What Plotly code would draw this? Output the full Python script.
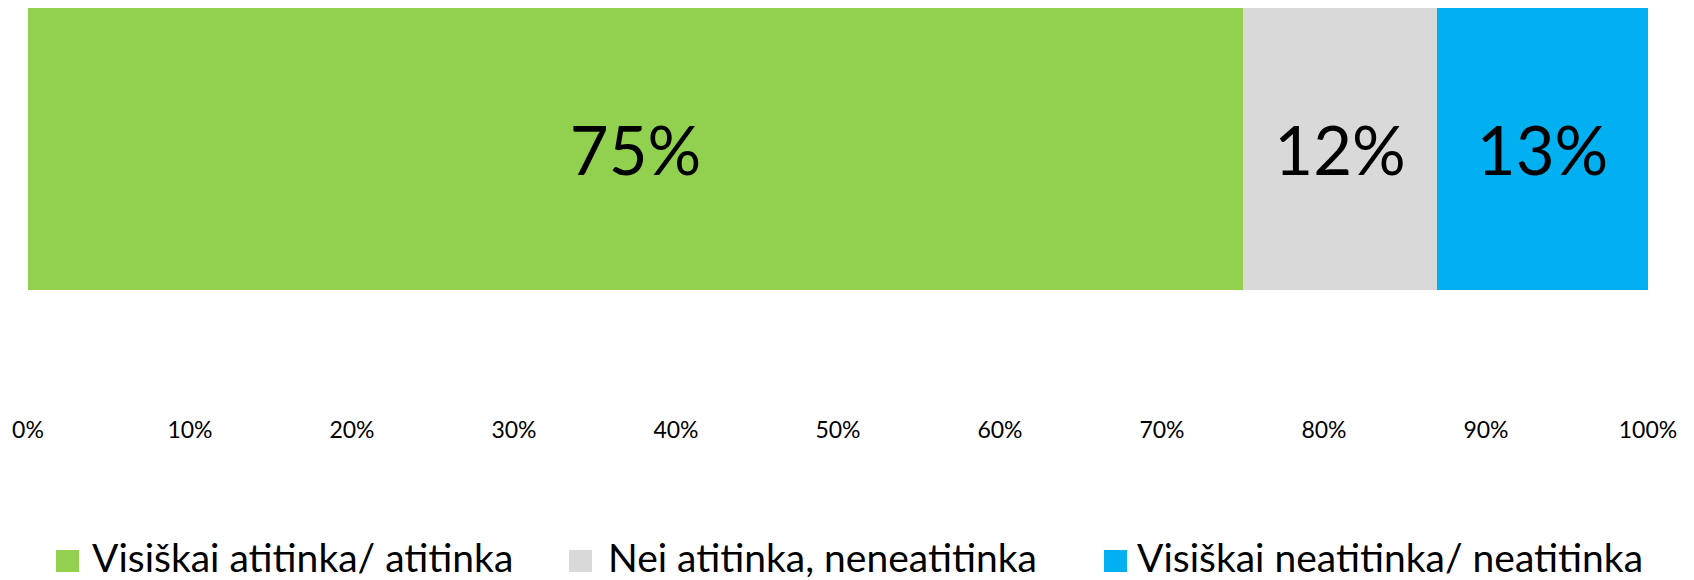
import plotly.graph_objects as go

categories = ["Visiškai atitinka/ atitinka", "Nei atitinka, neneatitinka", "Visiškai neatitinka/ neatitinka"]
values = [75, 12, 13]
labels = ["75%", "12%", "13%"]
colors = ["#92D050", "#D9D9D9", "#00B0F0"]
tick_vals = [0, 10, 20, 30, 40, 50, 60, 70, 80, 90, 100]
tick_text = ["0%", "10%", "20%", "30%", "40%", "50%", "60%", "70%", "80%", "90%", "100%"]

# page body has an 8px default margin; figure coords = page coords - 8
OFF = 8
W, H = 1694 - OFF, 580 - OFF
ML, MT = 28 - OFF, 8 - OFF
PLOT_R = 1648 - OFF
PLOT_B = 414 - OFF
MR = W - PLOT_R
MB = H - PLOT_B
BAR_PX = 282
FONT = "Lato"

fig = go.Figure()
for cat, v, lab, col in zip(categories, values, labels, colors):
    fig.add_trace(go.Bar(
        x=[v], y=[0], orientation="h", name=cat, width=1,
        marker=dict(color=col, line=dict(width=0)),
        text=[lab], textposition="inside", insidetextanchor="middle",
        textangle=0, constraintext="none",
        textfont=dict(family=FONT, size=67, color="#000000"),
        showlegend=False, hoverinfo="x+name",
    ))

pw = W - ML - MR
ph = H - MT - MB


def px_x(p):
    return (p - OFF - ML) / pw


def px_y(p):
    return (H - MB - (p - OFF)) / ph


shapes = []
annotations = []
legend_sq_x = [56, 569, 1104]
legend_tx_x = [92, 608, 1137]
for cat, col, sx, tx in zip(categories, colors, legend_sq_x, legend_tx_x):
    shapes.append(dict(type="rect", xref="paper", yref="paper",
                       x0=px_x(sx), x1=px_x(sx + 23), y0=px_y(572), y1=px_y(550),
                       fillcolor=col, line=dict(width=0)))
    annotations.append(dict(xref="paper", yref="paper", x=px_x(tx), y=px_y(557),
                            xanchor="left", yanchor="middle", showarrow=False,
                            xshift=-2,
                            text=cat, font=dict(family=FONT, size=39, color="#000000")))

fig.update_layout(
    width=W, height=H,
    margin=dict(l=ML, r=MR, t=MT, b=MB),
    barmode="stack", bargap=0,
    plot_bgcolor="white", paper_bgcolor="white",
    shapes=shapes, annotations=annotations,
    xaxis=dict(range=[0, 100], tickvals=tick_vals, ticktext=tick_text,
               showgrid=False, zeroline=False, showline=False, ticks="",
               tickfont=dict(family=FONT, size=23, color="#000000"), fixedrange=True),
    yaxis=dict(range=[0.5 - ph / BAR_PX, 0.5], showticklabels=False, showgrid=False,
               zeroline=False, showline=False, fixedrange=True),
    showlegend=False,
)

fig.write_html("out.html")
